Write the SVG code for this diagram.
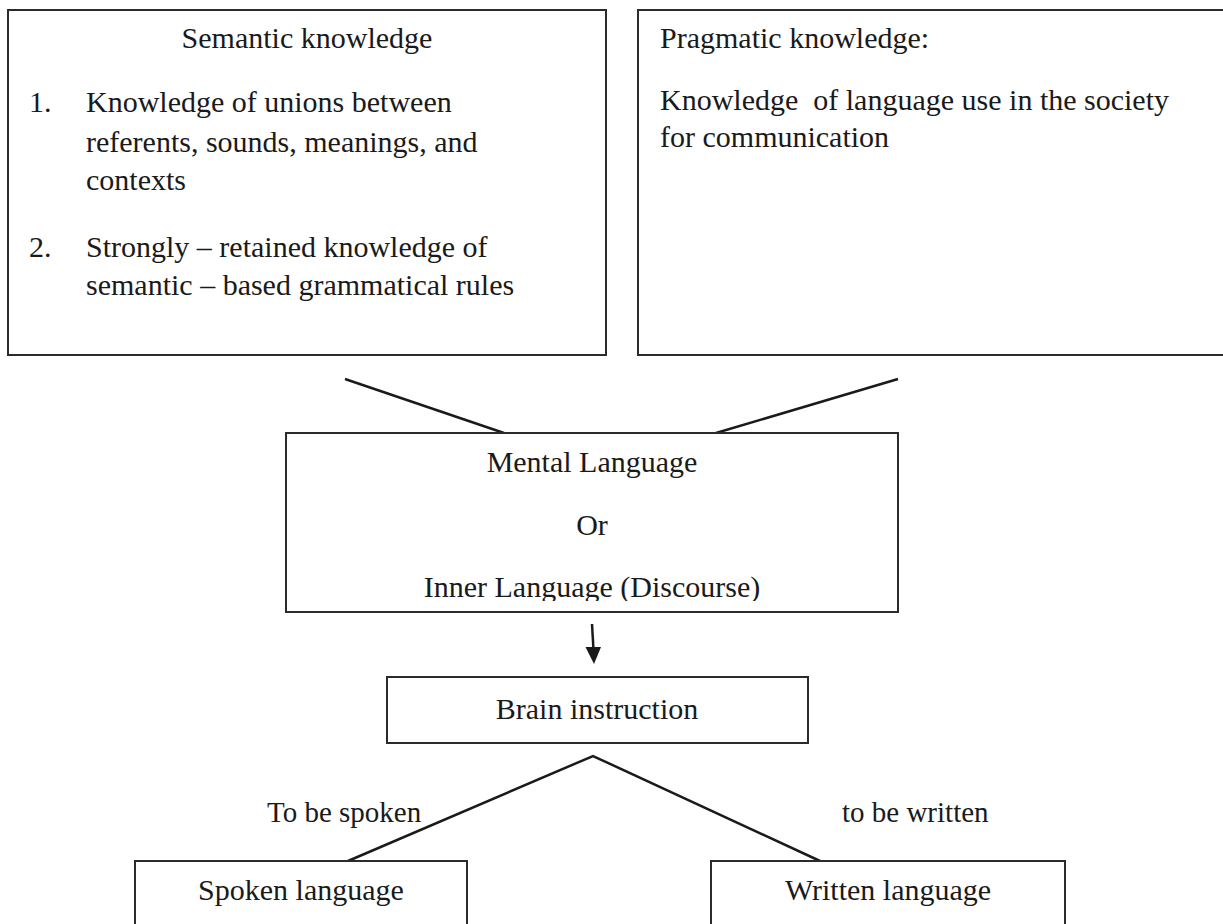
<svg xmlns="http://www.w3.org/2000/svg" width="1223" height="924" viewBox="0 0 1223 924">
<style>
.box{fill:#fff;stroke:#2b2b2b;stroke-width:2}
.t{font-family:"Liberation Serif","Times New Roman",serif;font-size:30px;fill:#1a1a1a}
.c{text-anchor:middle}
.lbl{font-family:"Liberation Serif","Times New Roman",serif;font-size:29px;fill:#1a1a1a}
.ln{stroke:#1a1a1a;stroke-width:2.5;fill:none}
</style>
<defs>
<clipPath id="mclip"><rect x="286" y="433" width="612" height="168"/></clipPath>
</defs>
<rect width="1223" height="924" fill="#fff"/>
<g id="connectors">
<line class="ln" x1="345" y1="379" x2="504" y2="433"/>
<line class="ln" x1="898" y1="379" x2="716" y2="433"/>
<line class="ln" x1="592" y1="624" x2="593.5" y2="650"/>
<polygon points="585.5,647 601,647 594,664" fill="#1a1a1a"/>
<polyline class="ln" points="348,861 593,756 820,861"/>
</g>
<g id="semantic">
<rect class="box" x="8" y="10" width="598" height="345"/>
<text class="t c" x="307" y="48">Semantic knowledge</text>
<text class="t" x="29" y="112">1.</text>
<text class="t" x="86" y="112">Knowledge of unions between</text>
<text class="t" x="86" y="152">referents, sounds, meanings, and</text>
<text class="t" x="86" y="190">contexts</text>
<text class="t" x="29" y="257">2.</text>
<text class="t" x="86" y="257">Strongly – retained knowledge of</text>
<text class="t" x="86" y="295">semantic – based grammatical rules</text>
</g>
<g id="pragmatic">
<rect class="box" x="638" y="10" width="600" height="345"/>
<text class="t" x="660" y="48">Pragmatic knowledge:</text>
<text class="t" x="660" y="110" style="white-space:pre" xml:space="preserve">Knowledge  of language use in the society</text>
<text class="t" x="660" y="147">for communication</text>
</g>
<g id="mental">
<rect class="box" x="286" y="433" width="612" height="179"/>
<text class="t c" x="592" y="472">Mental Language</text>
<text class="t c" x="592" y="535">Or</text>
<text class="t c" x="592" y="597" clip-path="url(#mclip)">Inner Language (Discourse)</text>
</g>
<g id="brain">
<rect class="box" x="387" y="677" width="421" height="66"/>
<text class="t c" x="597" y="719">Brain instruction</text>
</g>
<g id="labels">
<text class="lbl" x="267" y="822">To be spoken</text>
<text class="lbl" x="842" y="822">to be written</text>
</g>
<g id="spoken">
<rect class="box" x="135" y="861" width="332" height="80"/>
<text class="t c" x="301" y="900">Spoken language</text>
</g>
<g id="written">
<rect class="box" x="711" y="861" width="354" height="80"/>
<text class="t c" x="888" y="900">Written language</text>
</g>
</svg>
